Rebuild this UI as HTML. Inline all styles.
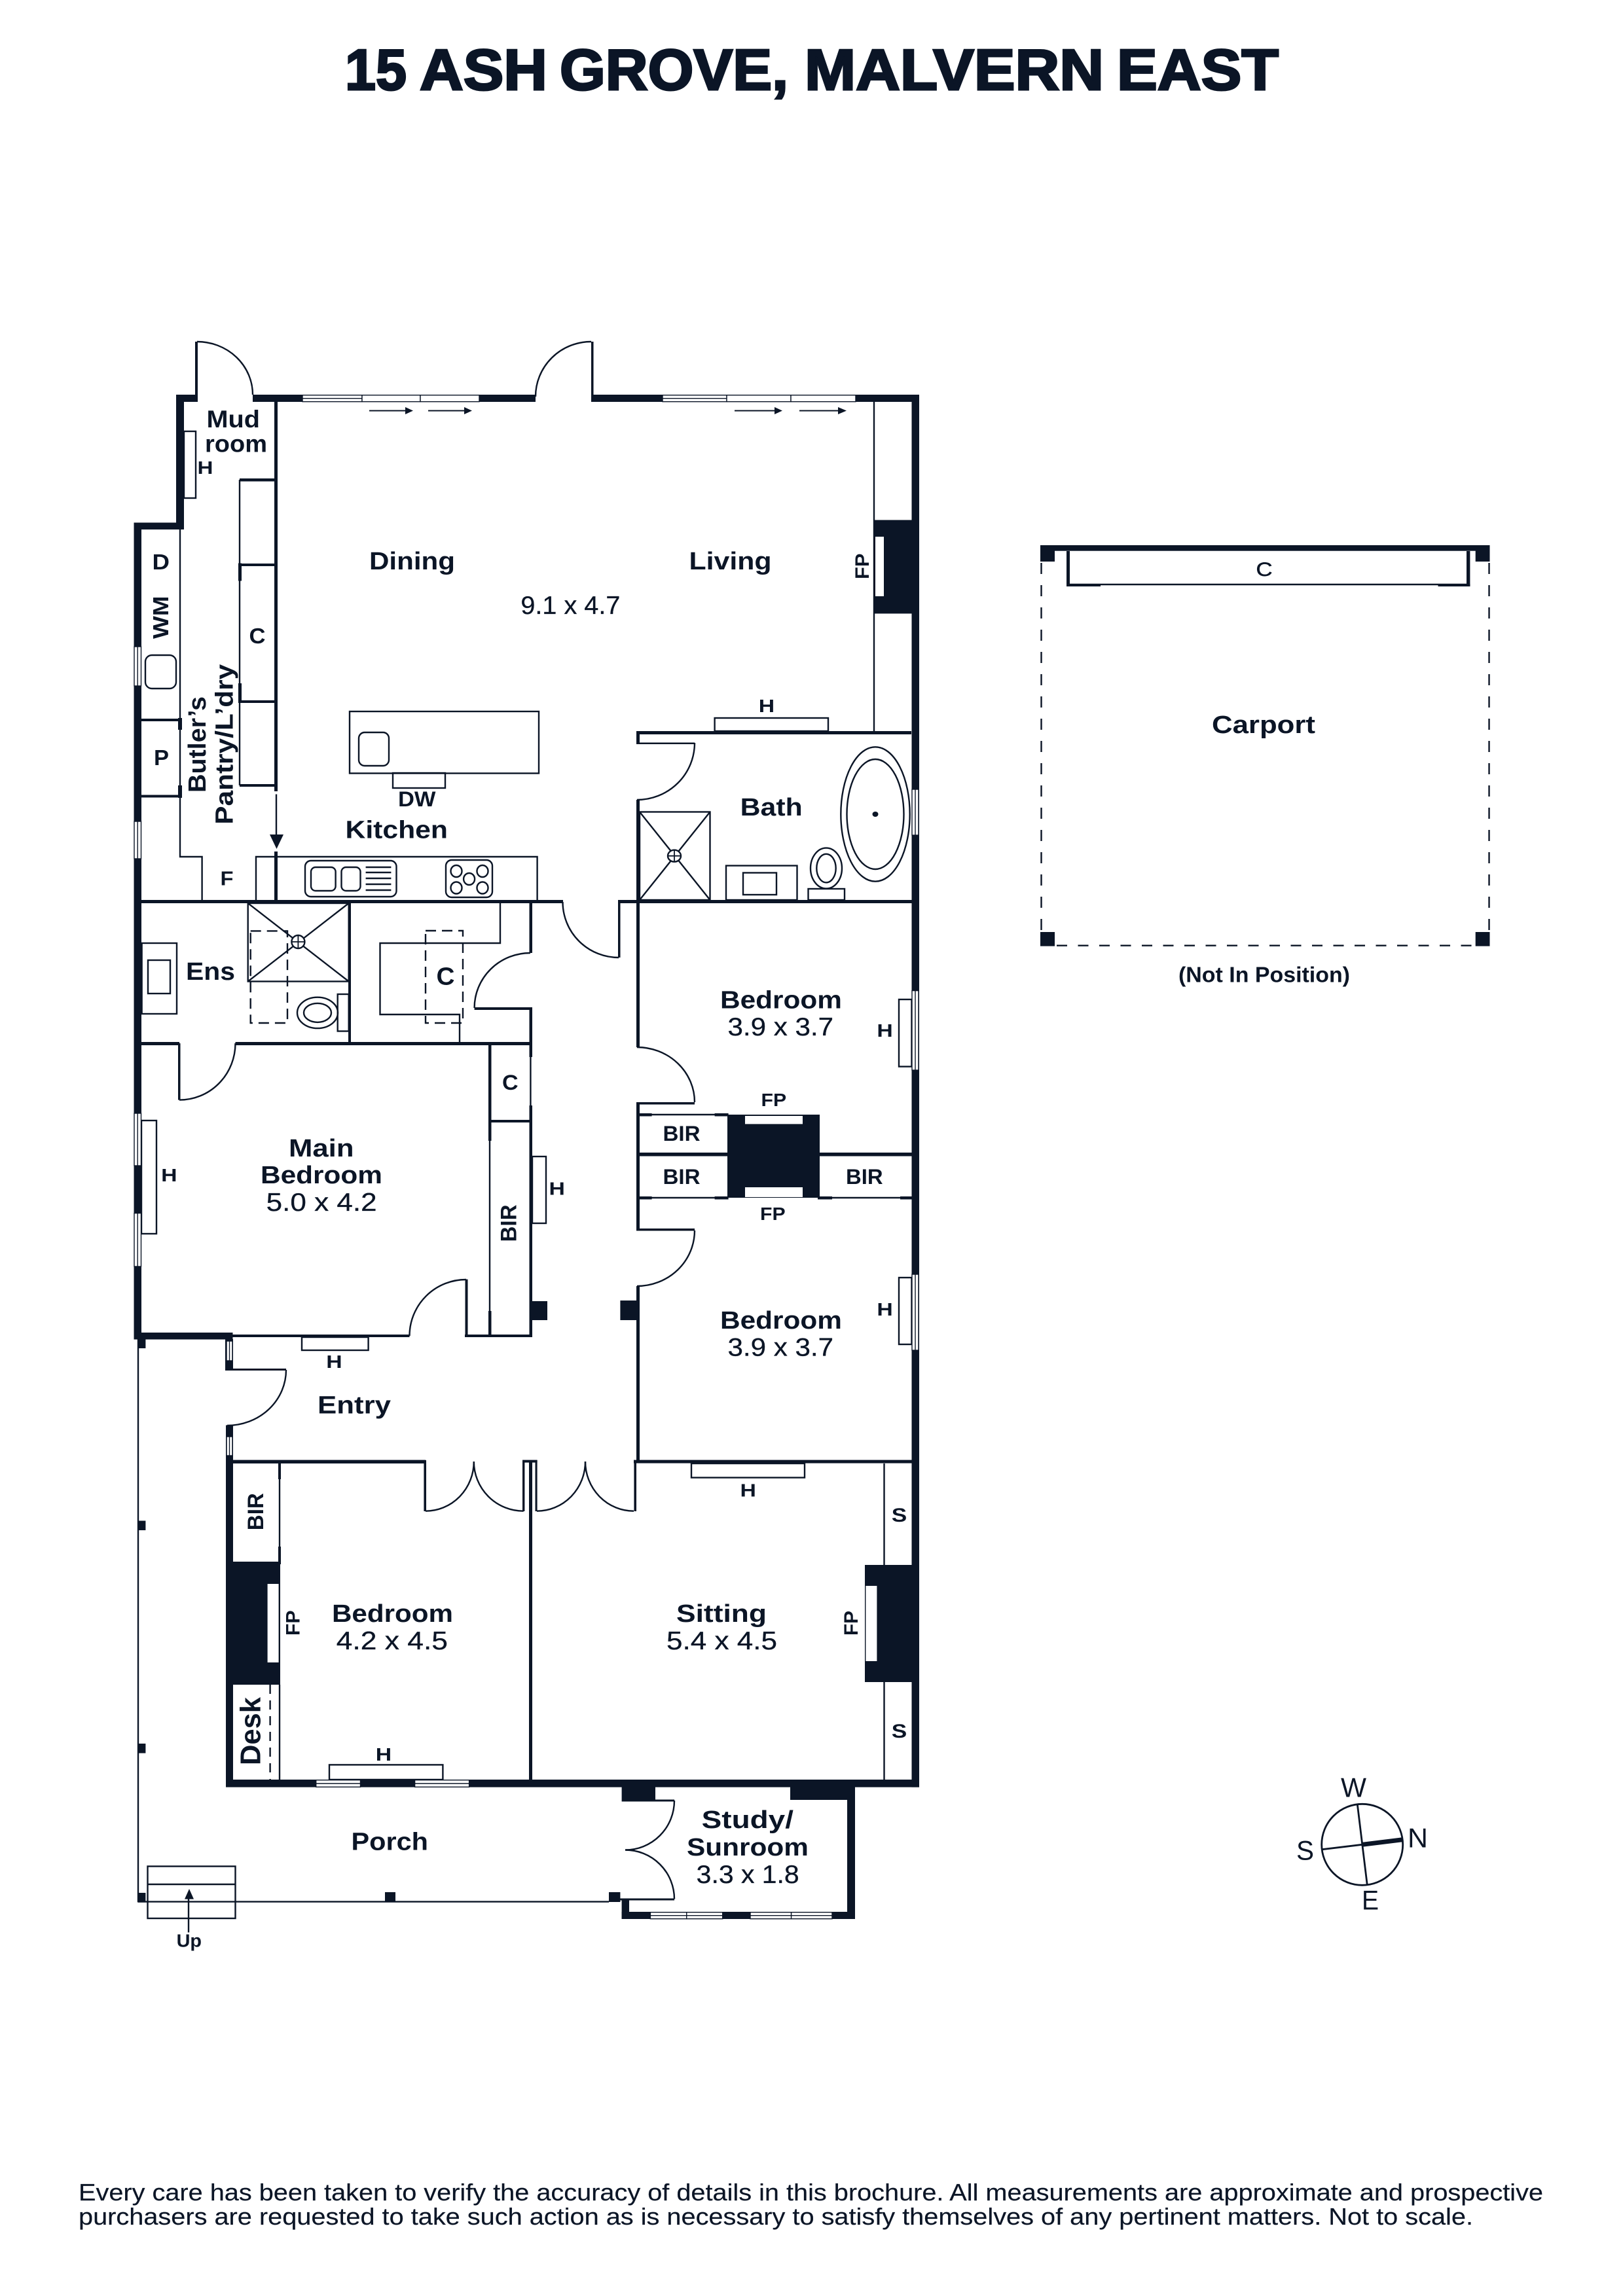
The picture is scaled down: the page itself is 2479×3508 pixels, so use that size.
<!DOCTYPE html>
<html><head><meta charset="utf-8"><title>15 Ash Grove, Malvern East</title>
<style>
html,body{margin:0;padding:0;background:#fff}
svg{display:block}
text{font-family:"Liberation Sans",sans-serif;fill:#0b1526}
.b{font-weight:700}
.r{font-weight:400;stroke:#0b1526;stroke-width:.3px}
.d{fill:#0b1526}
.l{fill:none;stroke:#0b1526;stroke-width:2.4}
.t{fill:#fff;stroke:#0b1526;stroke-width:2.4}
.win{fill:#fff;stroke:#0b1526;stroke-width:1.400}
.dash{fill:none;stroke:#0b1526;stroke-width:2.4;stroke-dasharray:16 9}
</style></head><body>
<svg xmlns="http://www.w3.org/2000/svg" width="2479" height="3508" viewBox="0 0 2479 3508">
<rect width="2479" height="3508" fill="#fff"/>

<!-- Title -->
<g class="b" font-size="88" style="stroke:#0b1526;stroke-width:3px">
<text x="527" y="137" textLength="94" lengthAdjust="spacingAndGlyphs">15</text>
<text x="641" y="137" textLength="195" lengthAdjust="spacingAndGlyphs">ASH</text>
<text x="855" y="137" textLength="349" lengthAdjust="spacingAndGlyphs">GROVE,</text>
<text x="1229" y="137" textLength="457" lengthAdjust="spacingAndGlyphs">MALVERN</text>
<text x="1706" y="137" textLength="247" lengthAdjust="spacingAndGlyphs">EAST</text>
</g>

<!-- Exterior walls -->
<g class="d">
<rect x="269" y="603" width="33" height="11"/>
<rect x="298" y="522" width="4" height="82"/>
<rect x="269" y="603" width="12" height="206"/>
<rect x="204.500" y="798.500" width="76.500" height="10.500"/>
<rect x="204.500" y="798.500" width="11.500" height="1248"/>
<rect x="386" y="603" width="432" height="11"/>
<rect x="903" y="522" width="3.500" height="82"/>
<rect x="903" y="603" width="501" height="11"/>
<rect x="1392.500" y="603" width="11.500" height="2127.600"/>
<rect x="204.500" y="2036" width="151" height="10.500"/>
<rect x="210" y="2046" width="12.400" height="14"/>
<rect x="344" y="2046" width="12" height="48"/>
<rect x="344" y="2091" width="93" height="3"/>
<rect x="345" y="2177.500" width="11" height="553"/>
<rect x="345" y="2719" width="1059" height="11.600"/>
<rect x="949.600" y="2719" width="51.400" height="33.500"/>
<rect x="1207" y="2719" width="99" height="31"/>
<rect x="1294" y="2730" width="12" height="202"/>
<rect x="949.600" y="2921" width="356.400" height="11"/>
<rect x="949.600" y="2903" width="11.400" height="29"/>
<rect x="930" y="2891" width="17.400" height="15"/>
<rect x="947" y="2900.500" width="83" height="3"/>
<rect x="1000" y="2749.500" width="30" height="3"/>

<!-- Interior walls -->
<rect x="419" y="613" width="5" height="596"/>
<rect x="419" y="1301" width="5" height="75"/>
<rect x="366" y="731" width="56" height="4.500"/>
<rect x="366" y="861" width="56" height="4"/>
<rect x="366" y="1070" width="56" height="4"/>
<rect x="366" y="1198" width="56" height="4"/>
<rect x="364" y="860.500" width="5" height="27"/>
<rect x="364" y="1044" width="5" height="30"/>
<rect x="215" y="1098" width="62" height="4"/>
<rect x="215" y="1214.500" width="62" height="4"/>
<rect x="272" y="1097" width="6" height="18"/>
<rect x="272" y="1200" width="6" height="19"/>
<rect x="215" y="1375" width="645" height="5"/>
<rect x="944" y="1376" width="3.500" height="87"/>
<rect x="944" y="1375" width="448.500" height="5"/>
<rect x="972" y="1117" width="420" height="5"/>
<rect x="972" y="1117" width="5" height="20"/>
<rect x="972" y="1134.500" width="89" height="2.500"/>
<rect x="972" y="1222" width="5" height="378"/>
<rect x="972" y="1684" width="5" height="194"/>
<rect x="972" y="1684" width="89" height="3.500"/>
<rect x="972" y="1877" width="89" height="3.500"/>
<rect x="972" y="1965" width="5" height="269"/>
<rect x="968" y="2230.600" width="424.500" height="5"/>
<rect x="968.400" y="2231" width="3.600" height="78"/>
<rect x="532" y="1380" width="4" height="214"/>
<rect x="215" y="1592" width="59" height="5"/>
<rect x="272" y="1594" width="3.500" height="86.600"/>
<rect x="359.500" y="1592" width="452" height="5"/>
<rect x="808.500" y="1380" width="4.500" height="76"/>
<rect x="724.600" y="1539" width="88.400" height="4"/>
<rect x="808.500" y="1540" width="4.500" height="75"/>
<rect x="808.500" y="1689" width="4.500" height="354"/>
<rect x="746" y="1596" width="4.500" height="147"/>
<rect x="746" y="2003" width="4.500" height="38"/>
<rect x="748" y="1711" width="63" height="4"/>
<rect x="710.500" y="1954.600" width="4" height="87"/>
<rect x="354" y="2039" width="271.500" height="4"/>
<rect x="710" y="2039" width="103" height="4"/>
<rect x="813" y="1988" width="23" height="29"/>
<rect x="947.400" y="1987" width="25.600" height="30"/>

<!-- Bedroom/Entry wall -->
<rect x="345" y="2230.600" width="305" height="5.400"/>
<rect x="647.400" y="2231" width="3.600" height="78"/>
<rect x="798" y="2231" width="3.400" height="78"/>
<rect x="798" y="2230.600" width="22.600" height="4"/>
<rect x="817.500" y="2231" width="3.100" height="78"/>
<rect x="808" y="2231" width="5" height="489"/>
<rect x="425" y="2236" width="4" height="24"/>
<rect x="425" y="2363" width="4" height="27"/>

<!-- Fireplaces -->
<rect x="1335" y="794.500" width="57.500" height="143"/>
<rect x="1111" y="1703" width="141" height="127"/>
<rect x="1321" y="2391" width="71.500" height="179"/>
<rect x="345" y="2386" width="83" height="188"/>

<!-- BIR walls -->
<rect x="977" y="1761" width="135" height="5.500"/>
<rect x="1251" y="1761" width="141.500" height="5.500"/>
<rect x="977" y="1701" width="18.600" height="4.500"/>
<rect x="1091.600" y="1701" width="21" height="4.500"/>
<rect x="977" y="1828" width="18.600" height="4.500"/>
<rect x="1091.600" y="1828" width="21" height="4.500"/>
<rect x="1249" y="1828" width="22" height="4.500"/>
<rect x="1375" y="1828" width="17.500" height="4.500"/>

<!-- Porch columns -->
<rect x="210" y="2323.500" width="12.400" height="14.500"/>
<rect x="210" y="2664" width="12.400" height="14.600"/>
<rect x="210" y="2892" width="12.400" height="14.600"/>
<rect x="588" y="2891" width="16" height="15"/>

<!-- Carport solid -->
<rect x="1589" y="833" width="686.500" height="8.700"/>
<rect x="1589" y="841" width="22" height="17"/>
<rect x="2253.700" y="841" width="21.800" height="17"/>
<rect x="1589" y="1424" width="22" height="21.600"/>
<rect x="2253.700" y="1424" width="21.800" height="21.600"/>
<rect x="1629" y="842" width="5" height="54"/>
<rect x="2240" y="842" width="5.400" height="54"/>
<rect x="1629" y="892" width="52" height="4"/>
<rect x="2196.500" y="892" width="48.900" height="4"/>
</g>

<!-- White fireplace insets -->
<g fill="#fff">
<rect x="1337" y="820" width="13" height="91"/>
<rect x="1138" y="1705" width="88" height="12.400"/>
<rect x="1138" y="1814" width="88" height="15"/>
<rect x="1322.400" y="2423" width="17" height="115"/>
<rect x="408.600" y="2420" width="17" height="120"/>
</g>

<!-- Thin lines -->
<g class="l">
<path d="M301 522A85 81 0 0 1 386 603"/>
<path d="M818 606A85 84 0 0 1 903 522"/>
<path d="M1061 1135A88 87 0 0 1 973 1222"/>
<path d="M859.500 1378A85.500 85 0 0 0 945 1463"/>
<path d="M973 1600A88 84 0 0 1 1061 1684"/>
<path d="M1061 1880A88 85 0 0 1 973 1965"/>
<path d="M274 1680.600A85.500 86.600 0 0 0 359.500 1594"/>
<path d="M810 1456A85.400 84 0 0 0 724.600 1540"/>
<path d="M712 1955A86.500 86 0 0 0 625.500 2041"/>
<path d="M437 2093A90 85 0 0 1 347 2178"/>
<path d="M650 2308.700A73.800 75.700 0 0 0 723.800 2233"/>
<path d="M723.800 2233A75.800 75.700 0 0 0 799.600 2308.700"/>
<path d="M820 2308.700A74 75.700 0 0 0 894 2233"/>
<path d="M894 2233A74 75.700 0 0 0 968 2308.700"/>
<path d="M1030 2751A75 75.500 0 0 1 955 2826.500"/>
<path d="M955 2826.500A75 75 0 0 1 1030 2901.500"/>

<!-- Butler's / kitchen -->
<path d="M366 733V1200"/>
<path d="M275 809V1309H308.600V1375"/>
<path d="M391 1375V1309H820.600V1375"/>
<path d="M422 1213.500V1280"/>
<rect x="534" y="1087" width="289" height="94.500"/>
<rect x="548" y="1119" width="46" height="51" rx="9"/>
<rect x="600" y="1181" width="80" height="23"/>
<rect x="222" y="1001" width="47" height="51" rx="10"/>
<rect x="466" y="1315" width="139.500" height="55" rx="9"/>
<rect x="475" y="1325" width="37.600" height="36" rx="7"/>
<rect x="521.500" y="1325" width="29" height="36" rx="7"/>
<path d="M558.600 1325H597.400M558.600 1333H597.400M558.600 1342H597.400M558.600 1351H597.400M558.600 1360H597.400"/>
<rect x="681" y="1314" width="71" height="57" rx="9"/>
<ellipse cx="697" cy="1331" rx="8.500" ry="9"/>
<ellipse cx="737" cy="1331" rx="8.500" ry="9"/>
<ellipse cx="697" cy="1356.500" rx="8.500" ry="9"/>
<ellipse cx="737" cy="1356.500" rx="8.500" ry="9"/>
<ellipse cx="716.600" cy="1343" rx="8.500" ry="9"/>

<!-- Mud H -->
<rect x="281" y="659" width="18" height="102"/>

<!-- Living -->
<path d="M1335 613V1118"/>
<rect x="1091.600" y="1097" width="173.400" height="20"/>

<!-- Bath -->
<rect x="977" y="1240.500" width="107.500" height="134.500"/>
<path d="M977 1240.500L1084.500 1375M1084.500 1240.500L977 1375"/>
<rect x="1109" y="1322.600" width="108.500" height="52.400"/>
<rect x="1135" y="1333.500" width="51" height="33.500"/>
<ellipse cx="1337" cy="1244" rx="52.700" ry="102.700"/>
<ellipse cx="1337" cy="1244" rx="43.500" ry="84"/>
<ellipse cx="1262" cy="1326.600" rx="24" ry="31"/>
<ellipse cx="1262" cy="1326.600" rx="14.700" ry="21.800"/>
<rect x="1234.500" y="1358" width="55.500" height="17"/>

<!-- Ensuite -->
<rect x="378.700" y="1380" width="154" height="119.500"/>
<path d="M378.700 1380L532.700 1499.500M532.700 1380L378.700 1499.500"/>
<rect x="216.600" y="1441" width="53.400" height="108"/>
<rect x="226" y="1467" width="34" height="51"/>
<ellipse cx="485" cy="1547.400" rx="31" ry="23.700"/>
<ellipse cx="485" cy="1547.400" rx="21" ry="14.500"/>
<rect x="515.700" y="1519" width="17" height="56.500"/>

<!-- WIR -->
<path d="M764 1380V1441H580.500V1550H702V1594"/>
<path d="M810.400 1615V1689"/>
<path d="M748 1743V2003"/>
<rect x="813" y="1767" width="21" height="102"/>
<rect x="216" y="1712" width="23" height="173"/>
<rect x="461" y="2043" width="101.600" height="20"/>

<!-- Bedrooms -->
<path d="M977 1703H1112M977 1830H1112M1251 1830H1392"/>
<rect x="1373" y="1527" width="19.500" height="102.600"/>
<rect x="1373" y="1952" width="19.500" height="102"/>

<!-- Sitting -->
<rect x="1056" y="2236" width="173" height="21.600"/>
<path d="M1350.500 2236V2391M1350.500 2570V2719"/>

<!-- Front bedroom -->
<path d="M427 2260V2363M427 2574V2719"/>
<rect x="503" y="2696.400" width="173.400" height="22.600"/>

<!-- Porch -->
<path d="M211 2046V2906M211 2905.600H930"/>
<rect x="225.500" y="2851.500" width="134" height="79.500"/>
<path d="M225.500 2879H359.500"/>
<path d="M288 2952.500V2898"/>

<!-- Carport -->
<path d="M1634 893H2240"/>
</g>

<!-- Arrowheads & arrows -->
<g class="d">
<path d="M412 1275H433L422.500 1297Z"/>
<path d="M282 2901.600H296L289 2886Z"/>
<rect x="564" y="626.500" width="56" height="2"/><path d="M619 622V633L631 627.500Z"/>
<rect x="654" y="626.500" width="56" height="2"/><path d="M709 622V633L721 627.500Z"/>
<rect x="1122" y="626.500" width="62" height="2"/><path d="M1183 622V633L1195 627.500Z"/>
<rect x="1221" y="626.500" width="60" height="2"/><path d="M1280 622V633L1293 627.500Z"/>
<ellipse cx="1337" cy="1244" rx="4.500" ry="4"/>
</g>

<!-- Dashes -->
<rect x="382.700" y="1422.400" width="56.300" height="140.600" class="dash"/>
<rect x="650" y="1422" width="57" height="141" class="dash"/>
<path d="M412.600 2574V2719" class="dash" style="stroke-dasharray:14 10"/>
<path d="M1590.500 860V1424M2274.500 860V1424" class="dash" style="stroke-dasharray:17 17"/>
<path d="M1614 1444.700H2253" class="dash" style="stroke-dasharray:16 16.500"/>

<!-- Drains -->
<ellipse cx="1030" cy="1307.700" rx="10" ry="9" class="t"/>
<path d="M1020 1307.700H1040M1030 1298.700V1316.700" class="l" style="stroke-width:1.800"/>
<circle cx="455.400" cy="1439" r="10" class="t"/>
<path d="M445.400 1439H465.400M455.400 1429V1449" class="l" style="stroke-width:1.800"/>

<!-- Windows horizontal -->
<g class="win">
<rect x="462" y="603.700" width="91" height="10"/><path d="M462 608.700H553"/>
<rect x="553" y="603.700" width="89" height="10"/>
<rect x="642" y="603.700" width="90" height="10"/>
<rect x="1012" y="603.700" width="98" height="10"/><path d="M1012 608.700H1110"/>
<rect x="1110" y="603.700" width="98" height="10"/>
<rect x="1208" y="603.700" width="99" height="10"/>
<rect x="482.700" y="2719.700" width="67.800" height="10.600"/><path d="M482.700 2725H550.500"/>
<rect x="633.600" y="2719.700" width="83" height="10.600"/><path d="M633.600 2725H716.600"/>
<rect x="993.400" y="2921.700" width="55.300" height="10"/><path d="M993.400 2926.700H1048.700"/>
<rect x="1048.700" y="2921.700" width="55" height="10"/><path d="M1048.700 2926.700H1103.700"/>
<rect x="1146" y="2921.700" width="62.600" height="10"/><path d="M1146 2926.700H1208.600"/>
<rect x="1208.600" y="2921.700" width="62.400" height="10"/><path d="M1208.600 2926.700H1271"/>

<!-- Windows vertical -->
<rect x="205" y="988" width="10.500" height="60"/><path d="M210.200 988V1048"/>
<rect x="205" y="1255" width="10.500" height="57"/><path d="M210.200 1255V1312"/>
<rect x="205" y="1701" width="10.500" height="80"/><path d="M210.200 1701V1781"/>
<rect x="205" y="1853.600" width="10.500" height="81.400"/><path d="M210.200 1853.600V1935"/>
<rect x="346" y="2049" width="9" height="30"/><path d="M350.500 2049V2079"/>
<rect x="346" y="2195" width="9" height="29"/><path d="M350.500 2195V2224"/>
<rect x="1393" y="1206" width="10" height="70"/><path d="M1398 1206V1276"/>
<rect x="1393" y="1513.600" width="10" height="121.400"/><path d="M1398 1513.600V1635"/>
<rect x="1393" y="1947" width="10" height="116"/><path d="M1398 1947V2063"/>
</g>

<!-- Compass -->
<circle cx="2080.700" cy="2818.300" r="62" fill="none" stroke="#0b1526" stroke-width="2.800"/>
<path d="M2073.300 2756.700L2088.300 2880M2019.300 2825.700L2080.700 2818.300" fill="none" stroke="#0b1526" stroke-width="2.800"/>
<path d="M2080.700 2818.300L2142.700 2810.700" fill="none" stroke="#0b1526" stroke-width="7"/>
<g font-size="42">
<text x="2048" y="2745.700" textLength="39" lengthAdjust="spacingAndGlyphs">W</text>
<text x="2150" y="2822.700" textLength="31" lengthAdjust="spacingAndGlyphs">N</text>
<text x="1980" y="2841.700" textLength="27" lengthAdjust="spacingAndGlyphs">S</text>
<text x="2080" y="2917.300" textLength="26" lengthAdjust="spacingAndGlyphs">E</text>
</g>

<!-- Room labels -->
<g class="b" font-size="38">
<text x="564" y="870" textLength="131" lengthAdjust="spacingAndGlyphs">Dining</text>
<text x="1052.500" y="870" textLength="126" lengthAdjust="spacingAndGlyphs">Living</text>
<text x="315.500" y="653" textLength="81.500" lengthAdjust="spacingAndGlyphs" font-size="37">Mud</text>
<text x="313" y="690.600" textLength="95" lengthAdjust="spacingAndGlyphs" font-size="37">room</text>
<text x="527.500" y="1280.700" textLength="156.500" lengthAdjust="spacingAndGlyphs">Kitchen</text>
<text x="1130.700" y="1246" textLength="95" lengthAdjust="spacingAndGlyphs">Bath</text>
<text x="284" y="1497" textLength="75" lengthAdjust="spacingAndGlyphs">Ens</text>
<text x="666.500" y="1504.600" textLength="28" lengthAdjust="spacingAndGlyphs">C</text>
<text x="441" y="1767" textLength="99.500" lengthAdjust="spacingAndGlyphs">Main</text>
<text x="398" y="1808" textLength="186" lengthAdjust="spacingAndGlyphs">Bedroom</text>
<text x="1100" y="1540.600" textLength="186" lengthAdjust="spacingAndGlyphs">Bedroom</text>
<text x="1100" y="2030" textLength="186" lengthAdjust="spacingAndGlyphs">Bedroom</text>
<text x="507" y="2478" textLength="185" lengthAdjust="spacingAndGlyphs">Bedroom</text>
<text x="485" y="2159.300" textLength="112" lengthAdjust="spacingAndGlyphs">Entry</text>
<text x="1033" y="2478" textLength="138" lengthAdjust="spacingAndGlyphs">Sitting</text>
<text x="536.500" y="2826.500" textLength="117.500" lengthAdjust="spacingAndGlyphs">Porch</text>
<text x="1071.700" y="2793" textLength="140.300" lengthAdjust="spacingAndGlyphs">Study/</text>
<text x="1049" y="2835" textLength="186" lengthAdjust="spacingAndGlyphs">Sunroom</text>
<text x="1851" y="1120" textLength="158" lengthAdjust="spacingAndGlyphs">Carport</text>
</g>

<!-- Dimensions -->
<g class="r" font-size="39">
<text x="795.400" y="938" textLength="152" lengthAdjust="spacingAndGlyphs">9.1 x 4.7</text>
<text x="406.600" y="1850" textLength="169" lengthAdjust="spacingAndGlyphs">5.0 x 4.2</text>
<text x="1111.500" y="1582" textLength="161.500" lengthAdjust="spacingAndGlyphs">3.9 x 3.7</text>
<text x="1111.500" y="2071.600" textLength="161.500" lengthAdjust="spacingAndGlyphs">3.9 x 3.7</text>
<text x="513.700" y="2520" textLength="170.300" lengthAdjust="spacingAndGlyphs">4.2 x 4.5</text>
<text x="1018" y="2520" textLength="169" lengthAdjust="spacingAndGlyphs">5.4 x 4.5</text>
<text x="1063.700" y="2877" textLength="157" lengthAdjust="spacingAndGlyphs">3.3 x 1.8</text>
</g>

<!-- Small labels -->
<g class="b" font-size="28">
<text x="301.500" y="724" textLength="24" lengthAdjust="spacingAndGlyphs">H</text>
<text x="232.500" y="870" textLength="26.500" lengthAdjust="spacingAndGlyphs" font-size="33">D</text>
<text x="380.500" y="983" textLength="25" lengthAdjust="spacingAndGlyphs" font-size="33">C</text>
<text x="235" y="1169" textLength="23" lengthAdjust="spacingAndGlyphs" font-size="33">P</text>
<text x="336.500" y="1352.500" textLength="20" lengthAdjust="spacingAndGlyphs" font-size="31">F</text>
<text x="608" y="1232" textLength="57.500" lengthAdjust="spacingAndGlyphs" font-size="32">DW</text>
<text x="1158.800" y="1088" textLength="24.400" lengthAdjust="spacingAndGlyphs">H</text>
<text x="767" y="1665" textLength="24.600" lengthAdjust="spacingAndGlyphs" font-size="32">C</text>
<text x="838.500" y="1825.500" textLength="24.400" lengthAdjust="spacingAndGlyphs">H</text>
<text x="246.100" y="1805" textLength="24.400" lengthAdjust="spacingAndGlyphs">H</text>
<text x="498.300" y="2090" textLength="24.400" lengthAdjust="spacingAndGlyphs">H</text>
<text x="1339.400" y="1584" textLength="24.400" lengthAdjust="spacingAndGlyphs">H</text>
<text x="1339.400" y="2010" textLength="24.400" lengthAdjust="spacingAndGlyphs">H</text>
<text x="1162.500" y="1690" textLength="38.600" lengthAdjust="spacingAndGlyphs">FP</text>
<text x="1161" y="1864" textLength="38.600" lengthAdjust="spacingAndGlyphs">FP</text>
<text x="1012.500" y="1743" textLength="57" lengthAdjust="spacingAndGlyphs" font-size="32">BIR</text>
<text x="1012.500" y="1809" textLength="57" lengthAdjust="spacingAndGlyphs" font-size="32">BIR</text>
<text x="1292" y="1809" textLength="56.600" lengthAdjust="spacingAndGlyphs" font-size="32">BIR</text>
<text x="573.800" y="2690" textLength="24.400" lengthAdjust="spacingAndGlyphs">H</text>
<text x="1130.500" y="2286.700" textLength="24.400" lengthAdjust="spacingAndGlyphs">H</text>
<text x="1361.800" y="2325" textLength="23.500" lengthAdjust="spacingAndGlyphs" font-size="30">S</text>
<text x="1361.800" y="2655" textLength="23.500" lengthAdjust="spacingAndGlyphs" font-size="30">S</text>
<text x="269.600" y="2974.500" textLength="38.400" lengthAdjust="spacingAndGlyphs">Up</text>
<text x="1918.500" y="880" textLength="25" lengthAdjust="spacingAndGlyphs" font-weight="400" style="stroke:#0b1526;stroke-width:.6px" font-size="30">C</text>
<text x="1800" y="1500.500" textLength="262" lengthAdjust="spacingAndGlyphs" font-size="33">(Not In Position)</text>
</g>

<!-- Rotated labels -->
<g class="b" font-size="30">
<text transform="translate(257 976) rotate(-90)" textLength="65.400" lengthAdjust="spacingAndGlyphs" font-size="33">WM</text>
<text transform="translate(314 1211) rotate(-90)" textLength="147" lengthAdjust="spacingAndGlyphs" font-size="38">Butler’s</text>
<text transform="translate(355.400 1259.800) rotate(-90)" textLength="245" lengthAdjust="spacingAndGlyphs" font-size="38">Pantry/L’dry</text>
<text transform="translate(1327 885) rotate(-90)" textLength="39.500" lengthAdjust="spacingAndGlyphs">FP</text>
<text transform="translate(788.500 1897.500) rotate(-90)" textLength="57" lengthAdjust="spacingAndGlyphs" font-size="34">BIR</text>
<text transform="translate(402 2338.200) rotate(-90)" textLength="57" lengthAdjust="spacingAndGlyphs" font-size="34">BIR</text>
<text transform="translate(457.700 2499) rotate(-90)" textLength="38.700" lengthAdjust="spacingAndGlyphs">FP</text>
<text transform="translate(1310 2499) rotate(-90)" textLength="38" lengthAdjust="spacingAndGlyphs">FP</text>
<text transform="translate(397.400 2697) rotate(-90)" textLength="104" lengthAdjust="spacingAndGlyphs" font-size="44">Desk</text>
</g>

<!-- Footer -->
<g class="r" font-size="36" style="stroke-width:.2px">
<text x="120" y="3362" textLength="2237" lengthAdjust="spacingAndGlyphs">Every care has been taken to verify the accuracy of details in this brochure. All measurements are approximate and prospective</text>
<text x="120" y="3399" textLength="2130" lengthAdjust="spacingAndGlyphs">purchasers are requested to take such action as is necessary to satisfy themselves of any pertinent matters. Not to scale.</text>
</g>
</svg>
</body></html>
